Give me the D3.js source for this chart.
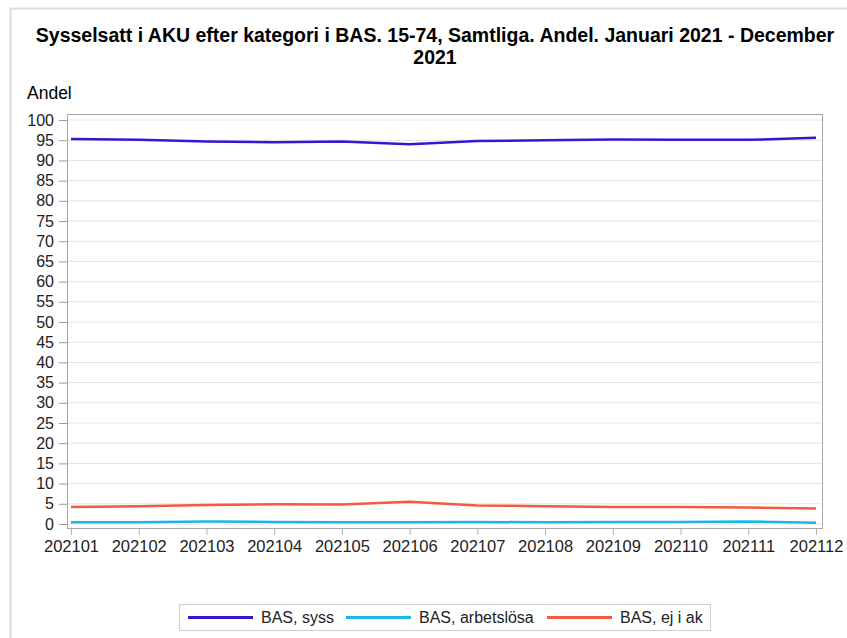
<!DOCTYPE html>
<html>
<head>
<meta charset="utf-8">
<script src="https://cdn.jsdelivr.net/npm/d3@7"></script>
<style>
  body { margin: 0; background: #fff; font-family: "Liberation Sans", Arial, sans-serif; }
</style>
</head>
<body>
<div id="chart"></div>
<script>
const months = ["202101", "202102", "202103", "202104", "202105", "202106",
  "202107", "202108", "202109", "202110", "202111", "202112"];
const seriesNames = ["BAS, syss", "BAS, arbetslösa", "BAS, ej i ak"];
const syss = [95.3, 95.1, 94.7, 94.5, 94.7, 94.0, 94.8, 95.0, 95.2, 95.1, 95.1, 95.6];
const arbetslosa = [0.4, 0.4, 0.6, 0.5, 0.4, 0.4, 0.5, 0.4, 0.5, 0.5, 0.6, 0.3];
const ejIAk = [4.2, 4.4, 4.7, 4.9, 4.8, 5.5, 4.6, 4.4, 4.2, 4.2, 4.1, 3.8];
const yTicks = d3.range(0, 101, 5);
const colors = ["#3119d1", "#1eb4ea", "#f25b3f"];

const series = [syss, arbetslosa, ejIAk].map((vals, i) => ({
  name: seriesNames[i],
  color: colors[i],
  values: vals.map((v, j) => ({ month: months[j], value: v }))
}));

const width = 847, height = 638;
const frame = { left: 67, right: 822, top: 114, bottom: 528 };
const font = "'Liberation Sans', Arial, sans-serif";

const svg = d3.select("#chart").append("svg")
  .attr("width", width).attr("height", height)
  .style("font-family", font);

// outer panel border
svg.append("rect")
  .attr("x", 10.5).attr("y", 8.5)
  .attr("width", 900).attr("height", 700)
  .attr("fill", "none").attr("stroke", "#dcdcdc").attr("stroke-width", 2);

svg.append("text")
  .attr("x", 435).attr("y", 42)
  .attr("text-anchor", "middle")
  .attr("font-size", 19.5).attr("font-weight", "bold")
  .text("Sysselsatt i AKU efter kategori i BAS. 15-74, Samtliga. Andel. Januari 2021 - December");
svg.append("text")
  .attr("x", 435).attr("y", 64)
  .attr("text-anchor", "middle")
  .attr("font-size", 19.5).attr("font-weight", "bold")
  .text("2021");

svg.append("text")
  .attr("x", 27).attr("y", 99)
  .attr("font-size", 17.5)
  .text("Andel");

const x = d3.scalePoint()
  .domain(months)
  .range([71, 816]);

const y = d3.scaleLinear()
  .domain([-1, 101.5])
  .range([frame.bottom, frame.top]);

// gridlines
svg.append("g")
  .selectAll("line")
  .data(yTicks)
  .join("line")
  .attr("x1", frame.left).attr("x2", frame.right)
  .attr("y1", d => y(d)).attr("y2", d => y(d))
  .attr("stroke", "#e4e4e4").attr("stroke-width", 1);

// y axis
const yAxis = svg.append("g")
  .attr("transform", `translate(${frame.left},0)`)
  .call(d3.axisLeft(y).tickValues(yTicks).tickSize(8).tickPadding(5));
yAxis.select(".domain").remove();
yAxis.selectAll(".tick line").attr("stroke", "#9a9a9a");
yAxis.selectAll(".tick text")
  .attr("font-size", 16).attr("fill", "#222")
  .attr("font-family", font);

// x axis
const xAxis = svg.append("g")
  .attr("transform", `translate(0,${frame.bottom})`)
  .call(d3.axisBottom(x).tickSize(7).tickPadding(5));
xAxis.select(".domain").remove();
xAxis.selectAll(".tick line").attr("stroke", "#b0b0b0");
xAxis.selectAll(".tick text")
  .attr("font-size", 16.5).attr("fill", "#222")
  .attr("font-family", font);

// frame
svg.append("rect")
  .attr("x", frame.left + 0.5).attr("y", frame.top + 0.5)
  .attr("width", frame.right - frame.left).attr("height", frame.bottom - frame.top)
  .attr("fill", "none").attr("stroke", "#a8a8a8").attr("stroke-width", 1);

const line = d3.line()
  .x(d => x(d.month))
  .y(d => y(d.value));

svg.append("g")
  .selectAll("path")
  .data(series)
  .join("path")
  .attr("d", d => line(d.values))
  .attr("fill", "none")
  .attr("stroke", d => d.color)
  .attr("stroke-width", 2.5)
  .attr("stroke-linejoin", "round");

// legend
const legend = svg.append("g");
legend.append("rect")
  .attr("x", 179.5).attr("y", 604.5)
  .attr("width", 531).attr("height", 26)
  .attr("fill", "#fff").attr("stroke", "#cfcfcf");

const legendX = [188, 346, 547];
const items = legend.selectAll("g.item")
  .data(series)
  .join("g")
  .attr("class", "item")
  .attr("transform", (d, i) => `translate(${legendX[i]},617.5)`);
items.append("line")
  .attr("x1", 0).attr("x2", 65)
  .attr("stroke", d => d.color).attr("stroke-width", 3);
items.append("text")
  .attr("x", 73).attr("y", 5.5)
  .attr("font-size", 16).attr("fill", "#222")
  .text(d => d.name);
</script>
</body>
</html>
